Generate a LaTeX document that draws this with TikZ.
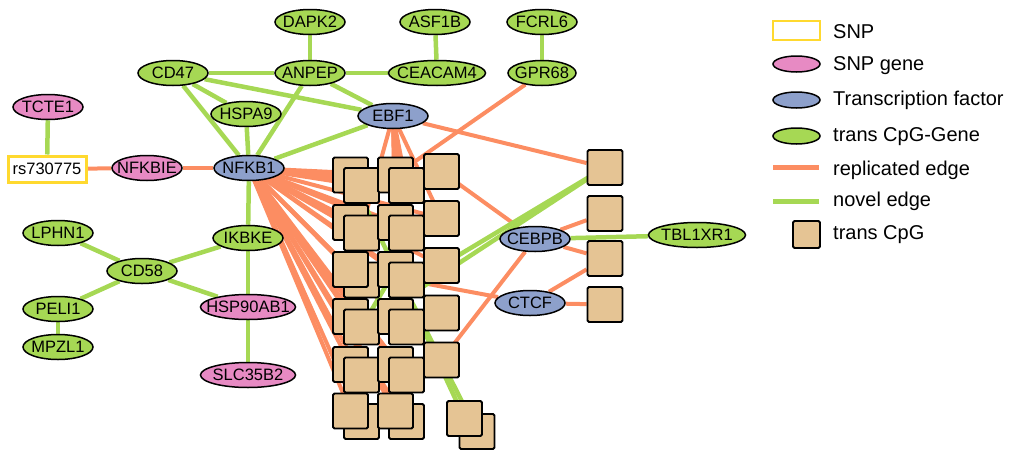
\documentclass[tikz,border=0pt]{standalone}
\usepackage{fontspec}
\setmainfont{Liberation Sans}
\usetikzlibrary{shapes.geometric}
\definecolor{cgreen}{HTML}{A6D854}
\definecolor{corange}{HTML}{FC8D62}
\definecolor{cpink}{HTML}{E78AC3}
\definecolor{cblue}{HTML}{8DA0CB}
\definecolor{ctan}{HTML}{E5C494}
\definecolor{cyellow}{HTML}{FFD92F}
\newcommand\lbl[1]{\makebox[0pt]{#1}}
\pgfdeclarelayer{background}
\pgfsetlayers{background,main}
\begin{document}
\begin{tikzpicture}[x=1pt,y=-1pt,
 gnode/.style={ellipse, draw=black, line width=1.5pt, inner sep=0pt, minimum width=70pt, minimum height=25pt, text height=11.8pt, text depth=0pt, font=\fontsize{16.5}{18}\selectfont},
 cgene/.style={gnode, fill=cgreen},
 sgene/.style={gnode, fill=cpink},
 tf/.style={gnode, fill=cblue},
 cpg/.style={rectangle, draw=black, line width=1.8pt, fill=ctan, minimum size=35pt, inner sep=0pt, rounded corners=1.5pt},
 nov/.style={draw=cgreen, line width=4.5pt},
 rep/.style={draw=corange, line width=4pt},
 legell/.style={ellipse, draw=black, line width=1.5pt, inner sep=0pt, minimum width=47pt, minimum height=16pt},
 legtxt/.style={anchor=base west, inner sep=0pt, font=\fontsize{20}{24}\selectfont},
]
\useasboundingbox (0,0) rectangle (1009,450);

% gene nodes
\node[cgene] (dapk2) at (310,22) {\lbl{DAPK2}};
\node[cgene] (asf1b) at (435,22) {\lbl{ASF1B}};
\node[cgene] (fcrl6) at (542,22) {\lbl{FCRL6}};
\node[cgene] (cd47) at (173,73) {\lbl{CD47}};
\node[cgene] (anpep) at (310,73) {\lbl{ANPEP}};
\node[cgene, minimum width=97pt] (ceacam4) at (437,73) {\lbl{CEACAM4}};
\node[cgene, minimum width=68pt] (gpr68) at (542,73) {\lbl{GPR68}};
\node[cgene] (hspa9) at (246,114) {\lbl{HSPA9}};
\node[tf] (ebf1) at (393,116) {\lbl{EBF1}};
\node[sgene] (tcte1) at (48,107) {\lbl{TCTE1}};
\node[rectangle, draw=cyellow, line width=3pt, fill=white, minimum width=78pt, minimum height=26pt, inner sep=0pt, text height=11.8pt, text depth=0pt, font=\fontsize{16.5}{18}\selectfont] (rs) at (47,169) {\lbl{rs730775}};
\node[sgene] (nfkbie) at (147,168) {\lbl{NFKBIE}};
\node[tf] (nfkb1) at (249,168) {\lbl{NFKB1}};
\node[cgene] (lphn1) at (58,233) {\lbl{LPHN1}};
\node[cgene] (cd58) at (142,271) {\lbl{CD58}};
\node[cgene] (ikbke) at (248,238) {\lbl{IKBKE}};
\node[cgene] (peli1) at (58,309) {\lbl{PELI1}};
\node[cgene] (mpzl1) at (58,347) {\lbl{MPZL1}};
\node[sgene, minimum width=95pt] (hsp) at (248,307) {\lbl{HSP90AB1}};
\node[sgene, minimum width=95pt] (slc) at (248,375) {\lbl{SLC35B2}};
\node[tf] (cebpb) at (535,239) {\lbl{CEBPB}};
\node[tf] (ctcf) at (530,303) {\lbl{CTCF}};
\node[cgene, minimum width=97pt] (tbl) at (697,235) {\lbl{TBL1XR1}};

% right CpGs
\node[cpg] (r1) at (605,167.5) {};
\node[cpg] (r2) at (605,213.5) {};
\node[cpg] (r3) at (605,258.5) {};
\node[cpg] (r4) at (605,304.5) {};

% cluster
\node[cpg] (a1b) at (350.5,175) {};
\node[cpg] (a1f) at (361.5,185.5) {};
\node[cpg] (b1b) at (395.5,175) {};
\node[cpg] (b1f) at (406.5,185.5) {};
\node[cpg] (a2b) at (350.5,222.5) {};
\node[cpg] (a2f) at (361.5,233) {};
\node[cpg] (b2b) at (395.5,222.5) {};
\node[cpg] (b2f) at (406.5,233) {};
\node[cpg] (a3f) at (361.5,280) {};
\node[cpg] (a3b) at (350.5,269.5) {};
\node[cpg] (b3b) at (395.5,269.5) {};
\node[cpg] (b3f) at (406.5,280) {};
\node[cpg] (a4b) at (350.5,316.5) {};
\node[cpg] (a4f) at (361.5,327) {};
\node[cpg] (b4b) at (395.5,316.5) {};
\node[cpg] (b4f) at (406.5,327) {};
\node[cpg] (a5b) at (350.5,364.5) {};
\node[cpg] (a5f) at (361.5,375) {};
\node[cpg] (b5b) at (395.5,364.5) {};
\node[cpg] (b5f) at (406.5,375) {};
\node[cpg] (a6f) at (361.5,421.5) {};
\node[cpg] (a6b) at (350.5,411) {};
\node[cpg] (b6f) at (406.5,421.5) {};
\node[cpg] (b6b) at (395.5,411) {};
\node[cpg] (c1) at (441.5,171.5) {};
\node[cpg] (c2) at (441.5,218.5) {};
\node[cpg] (c3) at (441.5,265.5) {};
\node[cpg] (c4) at (441.5,313) {};
\node[cpg] (c5) at (441.5,360) {};
\node[cpg] (e2) at (477,431.5) {};
\node[cpg] (e1) at (464.5,418.5) {};

% legend
\node[rectangle, draw=cyellow, line width=2.5pt, minimum width=47pt, minimum height=19pt, inner sep=0pt] (lsnp) at (796.5,30.5) {};
\node[legtxt] (tsnp) at (833,38.3) {SNP};
\node[legell, fill=cpink] (lsg) at (796.5,64) {};
\node[legtxt] (tsg) at (833,70) {SNP gene};
\node[legell, fill=cblue] (ltf) at (796.5,100) {};
\node[legtxt] (ttf) at (833,105) {Transcription factor};
\node[legell, fill=cgreen] (lcg) at (796.5,136) {};
\node[legtxt] (tcg) at (833,141.7) {trans CpG-Gene};
\coordinate (lra) at (773,167);
\coordinate (lrb) at (819,167);
\node[legtxt] (trep) at (833,175) {replicated edge};
\coordinate (lna) at (773,201);
\coordinate (lnb) at (819,201);
\node[legtxt] (tnov) at (833,206) {novel edge};
\node[cpg, minimum size=27pt] (lcpg) at (806.5,234.5) {};
\node[legtxt] (tcpg) at (833,239.3) {trans CpG};

\begin{pgfonlayer}{background}
% replicated edges
\draw[rep, line width=5pt] (lra) -- (lrb);
\draw[rep] (rs) -- (nfkbie);
\draw[rep] (nfkbie) -- (nfkb1);
\foreach \t in {a1b,a1f,b1b,b1f,a2b,a2f,b2b,b2f,a3b,a3f,b3b,b3f,a4b,a4f,b4b,b4f,a5b,a5f,b5b,b5f,a6b,a6f,b6b,b6f,c2,c3}
  \draw[rep] (nfkb1.center) -- (\t.center);
\foreach \t in {b1b,b1f,b2b,b2f,a3b,b3b,c2}
  \draw[rep] (ebf1.center) -- (\t.center);
\draw[rep] (ebf1) -- (r1);
\draw[rep] (gpr68) -- (b1b.center);
\draw[rep] (cebpb) -- (c1.center);
\draw[rep] (cebpb) -- (r2);
\draw[rep] (cebpb) -- (r3);
\draw[rep] (cebpb) -- (c5.center);
\draw[rep] (ctcf) -- (r3);
\draw[rep] (ctcf) -- (r4);
\draw[rep] (ctcf) -- (b3f.center);
% novel edges
\draw[nov, line width=5pt] (lna) -- (lnb);
\draw[nov] (dapk2) -- (anpep);
\draw[nov] (asf1b) -- (ceacam4);
\draw[nov] (fcrl6) -- (gpr68);
\draw[nov] (cd47) -- (anpep);
\draw[nov] (anpep) -- (ceacam4);
\draw[nov] (cd47) -- (ebf1);
\draw[nov] (cd47) -- (hspa9);
\draw[nov] (cd47) -- (nfkb1);
\draw[nov] (hspa9) -- (nfkb1);
\draw[nov] (anpep) -- (nfkb1);
\draw[nov] (anpep) -- (ebf1);
\draw[nov] (nfkb1) -- (ebf1);
\draw[nov] (tcte1) -- (rs);
\draw[nov] (nfkb1) -- (ikbke);
\draw[nov] (ikbke) -- (hsp);
\draw[nov] (hsp) -- (slc);
\draw[nov] (lphn1) -- (cd58);
\draw[nov] (cd58) -- (ikbke);
\draw[nov] (cd58) -- (hsp);
\draw[nov] (cd58) -- (peli1);
\draw[nov] (peli1) -- (mpzl1);
\draw[nov] (cebpb) -- (tbl);
\draw[nov] (r1.center) -- (c3.center);
\draw[nov] (r1.center) -- (a4f.center);
\draw[nov] (b3b.center) -- (e1.center);
\draw[nov] (b3b.center) -- (e2.center);
\draw[nov] (b3b.center) -- (a4f.center);
\draw[nov] (a1b.center) -- (b3b.center);
\end{pgfonlayer}
\end{tikzpicture}
\end{document}
